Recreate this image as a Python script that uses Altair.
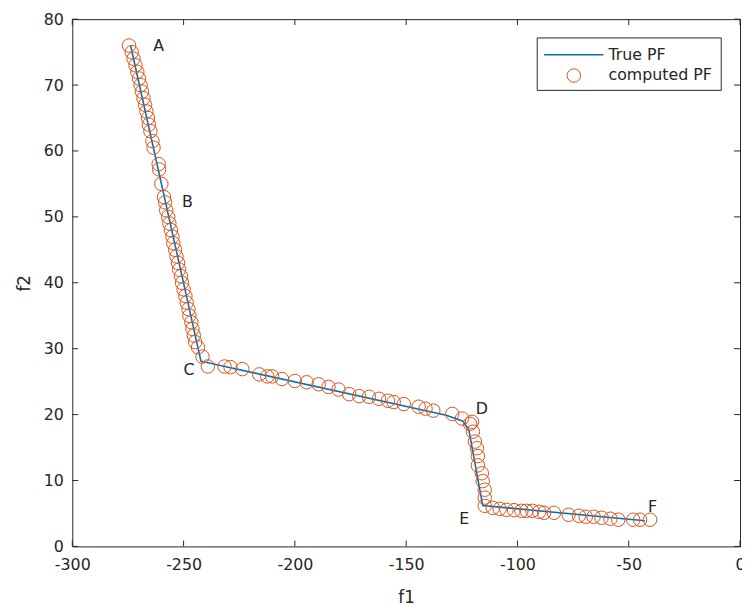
import altair as alt
import pandas as pd

# ---- data ----
pf_f1 = [-273.8, -242.2, -132.0, -124.5, -121.8, -115.6, -42.7]
pf_f2 = [76.0, 28.1, 19.9, 19.0, 17.6, 6.2, 3.9]

ac_f1 = [-274.5, -273.3, -272.5, -271.6, -270.8, -270.0, -269.3, -268.7, -268.0, -267.3,
         -266.7, -266.0, -265.6, -264.9, -264.0, -263.5, -261.2, -261.0, -260.0, -258.8,
         -258.3, -257.8, -256.9, -256.4, -255.7, -255.0, -254.6, -253.8, -253.2, -252.5,
         -252.0, -251.2, -250.7, -250.0, -249.2, -248.6, -247.8, -247.4, -246.5, -246.0,
         -245.4, -244.8, -243.5, -241.5]
ac_f2 = [76.0, 75.0, 74.0, 73.0, 72.0, 71.0, 70.0, 69.0, 68.0, 67.0,
         66.0, 65.0, 64.0, 63.0, 61.5, 60.5, 58.0, 57.2, 55.0, 53.0,
         52.2, 51.0, 50.0, 49.0, 48.0, 47.0, 46.0, 45.0, 44.0, 43.0,
         42.0, 41.0, 40.0, 39.0, 38.0, 37.0, 36.0, 35.0, 34.0, 33.0,
         32.0, 31.0, 30.2, 28.8]

cd_f1 = [-239.1, -231.6, -228.9, -223.6, -216.0, -212.4, -210.2, -205.8, -200.0, -194.7,
         -189.3, -184.9, -180.4, -175.6, -171.1, -166.7, -162.2, -158.2, -155.6, -151.1,
         -144.4, -141.3, -137.8, -129.3, -124.9, -120.4]
cd_f2 = [27.3, 27.3, 27.2, 26.9, 26.1, 25.8, 25.8, 25.4, 25.1, 24.9,
         24.6, 24.2, 23.8, 23.1, 22.8, 22.7, 22.4, 22.1, 21.9, 21.6,
         21.2, 20.9, 20.6, 20.1, 19.4, 18.9]

de_f1 = [-121.3, -120.0, -119.1, -118.2, -117.8, -117.8, -116.0, -115.6, -114.7, -114.7]
de_f2 = [18.6, 17.4, 15.9, 14.9, 13.7, 12.3, 11.1, 9.9, 8.6, 7.4]

ef_f1 = [-114.7, -111.1, -108.0, -104.9, -101.5, -98.2, -96.0, -93.3, -90.2, -88.0,
         -83.6, -77.0, -72.4, -69.3, -65.8, -62.2, -58.2, -54.7, -48.0, -44.9, -40.4]
ef_f2 = [6.15, 5.85, 5.7, 5.55, 5.5, 5.4, 5.4, 5.4, 5.25, 5.1,
         5.1, 4.8, 4.65, 4.5, 4.5, 4.35, 4.2, 4.05, 4.05, 4.05, 4.05]

lab_text = ["A", "B", "C", "D", "E", "F"]
lab_f1 = [-263.6, -250.7, -250.0, -118.7, -126.2, -41.3]
lab_f2 = [75.9, 52.2, 26.8, 20.9, 4.2, 6.0]

x_ticks = [-300, -250, -200, -150, -100, -50, 0]
y_ticks = [0, 10, 20, 30, 40, 50, 60, 70, 80]

# ---- styling ----
INK = "#262626"
BLUE = "#0072BD"
ORANGE = "#D95319"
FONT = "DejaVu Sans"
W, H = 675, 533
TICK = 6

comp_f1 = ac_f1 + cd_f1 + de_f1 + ef_f1
comp_f2 = ac_f2 + cd_f2 + de_f2 + ef_f2

pf_df = pd.DataFrame({"f1": pf_f1, "f2": pf_f2, "i": list(range(len(pf_f1)))})
comp_df = pd.DataFrame({"f1": comp_f1, "f2": comp_f2})
lab_df = pd.DataFrame({"f1": lab_f1, "f2": lab_f2, "t": lab_text})
xt_df = pd.DataFrame({"f1": x_ticks})
yt_df = pd.DataFrame({"f2": y_ticks})
one = pd.DataFrame({"a": [0]})

xs = alt.Scale(domain=[-300, 0], nice=False, zero=False)
ys = alt.Scale(domain=[0, 80], nice=False, zero=False)
x_axis = alt.Axis(values=x_ticks, labelExpr="'' + datum.value", title="f1",
                  labelPadding=10, titlePadding=18, labelFlush=False)
y_axis = alt.Axis(values=y_ticks, labelExpr="'' + datum.value", title="f2",
                  labelPadding=9, titlePadding=10, labelFlush=False)
X = alt.X("f1:Q", scale=xs, axis=x_axis)
Y = alt.Y("f2:Q", scale=ys, axis=y_axis)

line = alt.Chart(pf_df).mark_line(color=BLUE, strokeWidth=1.6).encode(x=X, y=Y, order="i:Q")
pts = alt.Chart(comp_df).mark_point(shape="circle", filled=False, color=ORANGE,
                                    size=185, strokeWidth=1, opacity=1).encode(x=X, y=Y)
labels = alt.Chart(lab_df).mark_text(align="left", baseline="middle", font=FONT,
                                     fontSize=16, color=INK).encode(x=X, y=Y, text="t:N")

xt_bot = alt.Chart(xt_df).mark_rule(color=INK).encode(x=X, y=alt.value(H), y2=alt.value(H - TICK))
xt_top = alt.Chart(xt_df).mark_rule(color=INK).encode(x=X, y=alt.value(0), y2=alt.value(TICK))
yt_left = alt.Chart(yt_df).mark_rule(color=INK).encode(y=Y, x=alt.value(0), x2=alt.value(TICK))
yt_right = alt.Chart(yt_df).mark_rule(color=INK).encode(y=Y, x=alt.value(W), x2=alt.value(W - TICK))

# legend (drawn in pixel space inside the plot)
leg_box = alt.Chart(one).mark_rect(fill="white", stroke=INK, strokeWidth=1).encode(
    x=alt.value(470), x2=alt.value(656), y=alt.value(19), y2=alt.value(72))
leg_line = alt.Chart(one).mark_rule(color=BLUE, strokeWidth=1.6).encode(
    x=alt.value(477), x2=alt.value(537), y=alt.value(36))
leg_pt = alt.Chart(one).mark_point(shape="circle", filled=False, color=ORANGE, size=185,
                                   strokeWidth=1, opacity=1).encode(
    x=alt.value(507), y=alt.value(57))
leg_t1 = alt.Chart(one).mark_text(text="True PF", align="left", baseline="middle", font=FONT,
                                  fontSize=16, color=INK).encode(x=alt.value(542), y=alt.value(36))
leg_t2 = alt.Chart(one).mark_text(text="computed PF", align="left", baseline="middle", font=FONT,
                                  fontSize=16, color=INK).encode(x=alt.value(542), y=alt.value(57))

chart = alt.layer(
    line, pts, labels, xt_bot, xt_top, yt_left, yt_right,
    leg_box, leg_line, leg_pt, leg_t1, leg_t2
).properties(
    width=W, height=H,
    autosize=alt.AutoSizeParams(type="none"),
    padding={"left": 65, "top": 8, "right": 2, "bottom": 60},
    background="white",
).configure_view(
    stroke=INK, strokeWidth=1
).configure_axis(
    grid=False, domain=False, ticks=False,
    labelFont=FONT, labelFontSize=16, labelColor=INK,
    titleFont=FONT, titleFontSize=17, titleColor=INK, titleFontWeight="normal",
)

chart.save("out.html", embed_options={"renderer": "svg", "actions": False})
